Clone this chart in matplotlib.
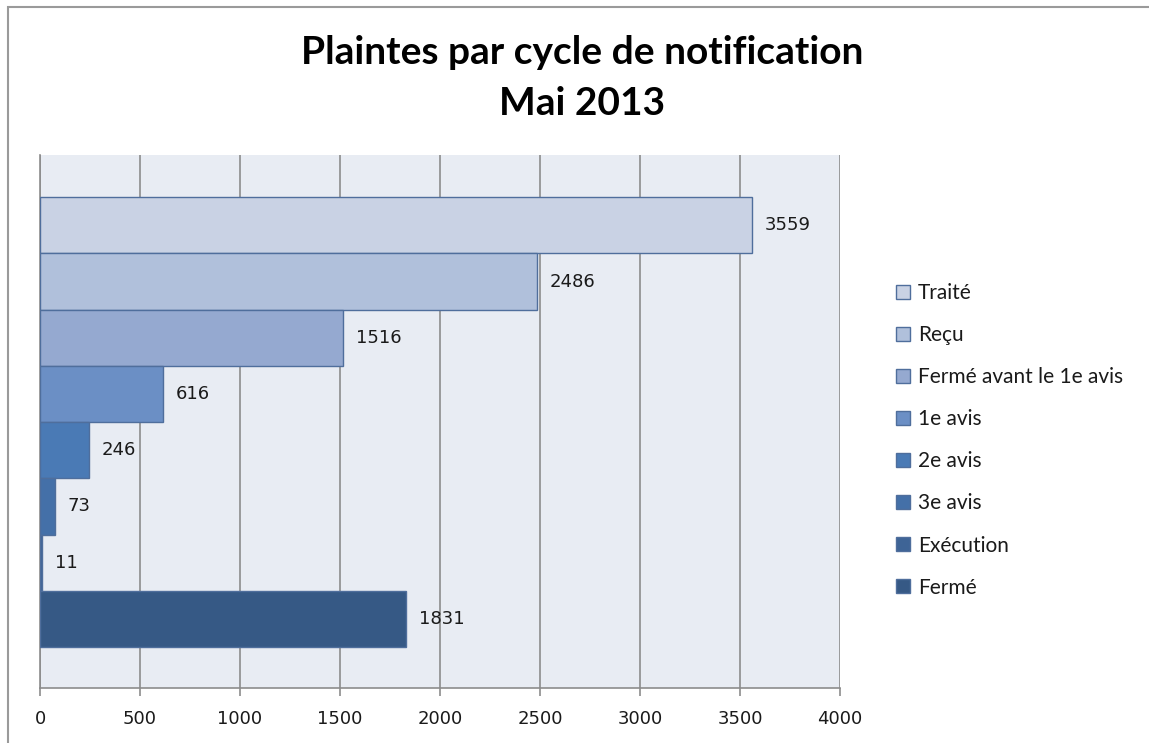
import matplotlib
matplotlib.use("Agg")
import matplotlib.pyplot as plt
from matplotlib.patches import Rectangle

title = "Plaintes par cycle de notification\nMai 2013"
categories = ["Traité", "Reçu", "Fermé avant le 1e avis", "1e avis",
              "2e avis", "3e avis", "Exécution", "Fermé"]
values = [3559, 2486, 1516, 616, 246, 73, 11, 1831]
colors = ["#C9D2E4", "#B0C0DB", "#95A9D0", "#6B8FC5",
          "#4A7AB5", "#4470A8", "#3E6496", "#365985"]
xticks = [0, 500, 1000, 1500, 2000, 2500, 3000, 3500, 4000]

fig = plt.figure(figsize=(11.49, 7.43), dpi=100)
fig.patch.set_facecolor("white")

# outer chart frame (top/left visible)
fig.add_artist(Rectangle((8 / 1149, -0.1), 1.2, (743 - 7) / 743 + 0.1,
                         transform=fig.transFigure, fill=False,
                         edgecolor="#9A9A9A", linewidth=1.5))

ax = fig.add_axes([40 / 1149, 1 - 688 / 743, 800 / 1149, 533 / 743])
ax.set_facecolor("#E8ECF3")

for i, (cat, val, col) in enumerate(zip(categories, values, colors)):
    b = ax.barh(i, val, height=1.0, color=col, edgecolor="#4F6E9C",
                linewidth=1.0, label=cat, zorder=3)
    ax.bar_label(b, labels=[str(val)], padding=9, fontsize=13,
                 color="#1A1A1A", family="DejaVu Sans")

ax.set_xlim(0, 4000)
ax.set_ylim(8.23, -1.25)
ax.set_xticks(xticks)
ax.set_xticklabels([str(t) for t in xticks], fontsize=13, color="#1A1A1A")
ax.set_yticks([])
ax.xaxis.grid(True, color="#8C8C8C", linewidth=1.2, zorder=0)
ax.set_axisbelow(True)
for s in ["top", "right"]:
    ax.spines[s].set_visible(False)
ax.spines["left"].set_color("#8C8C8C")
ax.spines["bottom"].set_color("#8C8C8C")
ax.spines["left"].set_linewidth(1.2)
ax.spines["bottom"].set_linewidth(1.2)
ax.tick_params(axis="x", length=6, color="#8C8C8C", width=1.2, pad=10)

fig.text(582 / 1149, 1 - 78 / 743, title, ha="center", va="center",
         fontsize=28, fontweight="bold", family="Lato",
         linespacing=1.55, color="black")

leg = ax.legend(loc="upper left", bbox_to_anchor=(896 / 1149, 1 - 283 / 743),
                bbox_transform=fig.transFigure, frameon=False,
                prop={"family": "Lato", "size": 15},
                handlelength=0.65, handleheight=0.65, handletextpad=0.4,
                labelspacing=1.06, borderaxespad=0, borderpad=0)
for t in leg.get_texts():
    t.set_color("#1A1A1A")

fig.savefig("out.png", dpi=100)
